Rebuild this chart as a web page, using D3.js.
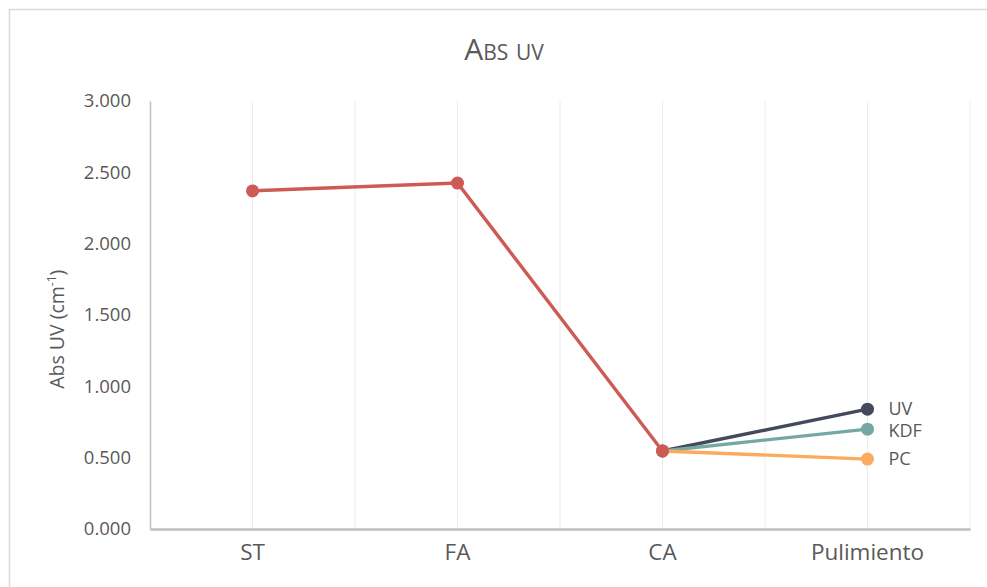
<!DOCTYPE html>
<html>
<head>
<meta charset="utf-8">
<script src="https://cdn.jsdelivr.net/npm/d3@7"></script>
<style>
  body { margin: 0; background: #fff; }
  text { font-family: "Open Sans", "DejaVu Sans", sans-serif; fill: #595959; }
</style>
</head>
<body>
<script>
// chart data
var categories = ["ST", "FA", "CA", "Pulimiento"];
var yTicks = [0, 0.5, 1, 1.5, 2, 2.5, 3];
var mainValues = [2.37, 2.425, 0.547, null];   // red series
var uvValues   = [null, null, 0.547, 0.84];
var kdfValues  = [null, null, 0.547, 0.70];
var pcValues   = [null, null, 0.547, 0.49];

var series = [
  {name: "UV",  values: uvValues,  color: "#44495e", dy: 0},
  {name: "KDF", values: kdfValues, color: "#76a8a3", dy: 2},
  {name: "PC",  values: pcValues,  color: "#fdaa5f", dy: 0},
  {name: "",    values: mainValues, color: "#cd5a55", dy: 0}
];

var width = 987, height = 587;
var margin = {top: 101, right: 17, bottom: 58, left: 150};

var svg = d3.select("body").append("svg")
    .attr("width", width)
    .attr("height", height);

// outer chart border
svg.append("rect")
    .attr("x", 9.5).attr("y", 9.5)
    .attr("width", width).attr("height", height)
    .attr("fill", "none")
    .attr("stroke", "#d9d9d9")
    .attr("stroke-width", 1.5);

var x = d3.scaleBand().domain(categories)
    .range([margin.left, width - margin.right]);
var y = d3.scaleLinear().domain([0, 3])
    .range([height - margin.bottom, margin.top]);

// vertical gridlines at category centres and between
var gridX = [];
categories.forEach(function(c) {
  gridX.push(x(c) + x.bandwidth() / 2);
  gridX.push(x(c) + x.bandwidth());
});
svg.append("g").selectAll("line")
    .data(gridX)
  .enter().append("line")
    .attr("x1", function(d) { return d; })
    .attr("x2", function(d) { return d; })
    .attr("y1", y(3))
    .attr("y2", y(0))
    .attr("stroke", "#ececec")
    .attr("stroke-width", 1);

// y axis
var yAxis = svg.append("g")
    .attr("transform", "translate(" + margin.left + ",0)")
    .call(d3.axisLeft(y).tickValues(yTicks).tickSize(0).tickPadding(19)
      .tickFormat(d3.format(".3f")));
yAxis.select(".domain").attr("stroke", "#bfbfbf").attr("stroke-width", 1.5);
yAxis.selectAll("text").style("font-size", "18.5px").attr("fill", "#595959");

// x axis
var xAxis = svg.append("g")
    .attr("transform", "translate(0," + y(0) + ")")
    .call(d3.axisBottom(x).tickSize(0).tickPadding(15));
xAxis.select(".domain").attr("stroke", "#bfbfbf").attr("stroke-width", 2.5);
xAxis.selectAll("text").style("font-size", "22.5px").attr("fill", "#595959");

// lines
var line = d3.line()
    .defined(function(d) { return d != null; })
    .x(function(d, i) { return x(categories[i]) + x.bandwidth() / 2; })
    .y(function(d) { return y(d); });

series.forEach(function(s) {
  svg.append("path")
      .datum(s.values)
      .attr("fill", "none")
      .attr("stroke", s.color)
      .attr("stroke-width", 3.4)
      .attr("d", line);
});

series.forEach(function(s) {
  var pts = s.values.map(function(v, i) { return {v: v, i: i}; })
      .filter(function(d) { return d.v != null; });
  svg.append("g").selectAll("circle")
      .data(pts)
    .enter().append("circle")
      .attr("cx", function(d) { return x(categories[d.i]) + x.bandwidth() / 2; })
      .attr("cy", function(d) { return y(d.v); })
      .attr("r", 6.5)
      .attr("fill", s.color);
});

// end labels
series.filter(function(s) { return s.name; }).forEach(function(s) {
  var last = s.values[s.values.length - 1];
  svg.append("text")
      .attr("x", x(categories[3]) + x.bandwidth() / 2 + 21)
      .attr("y", y(last) + 6 + s.dy)
      .style("font-size", "18px")
      .text(s.name);
});

// title
svg.append("text")
    .attr("x", 504)
    .attr("y", 60)
    .attr("text-anchor", "middle")
    .style("font-size", "30px")
    .style("font-variant", "small-caps")
    .text("Abs uv");

// y axis label
var yl = svg.append("text")
    .attr("transform", "translate(64," + y(1.4) + ") rotate(-90)")
    .attr("text-anchor", "middle")
    .style("font-size", "19.5px");
yl.append("tspan").text("Abs UV (cm");
yl.append("tspan").attr("dy", -8).style("font-size", "12px").text("-1");
yl.append("tspan").attr("dy", 8).text(")");
</script>
</body>
</html>
